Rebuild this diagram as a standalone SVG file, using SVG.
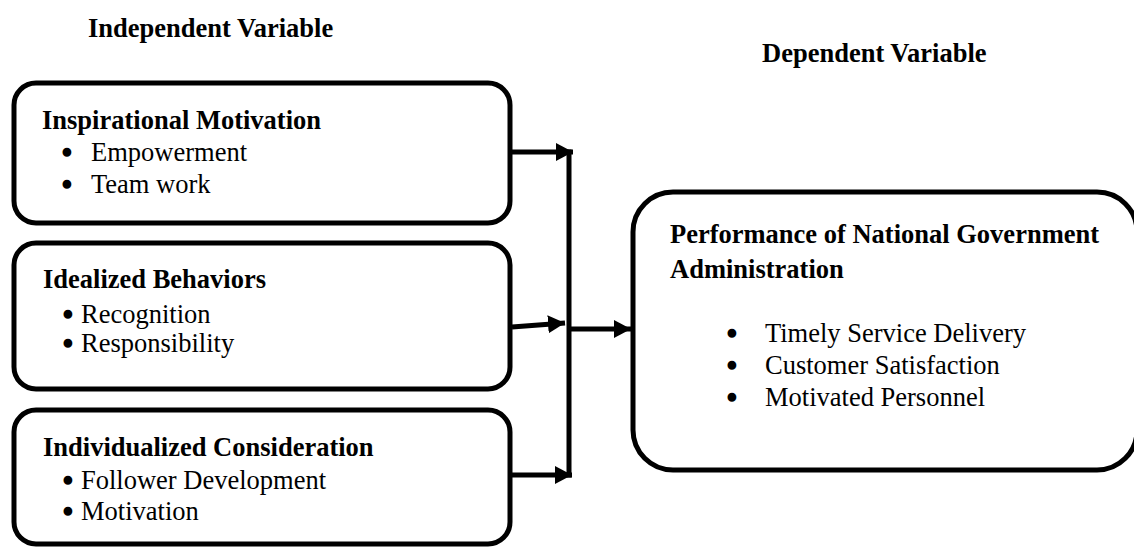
<svg xmlns="http://www.w3.org/2000/svg" width="1134" height="547" viewBox="0 0 1134 547">
  <style>
    .box { fill: #ffffff; stroke: #000000; stroke-width: 5; }
    .h { font-family: "Liberation Serif", "Times New Roman", serif; font-weight: bold; font-size: 26.5px; fill: #000; }
    .t { font-family: "Liberation Serif", "Times New Roman", serif; font-size: 26.5px; fill: #000; }
    .b { font-family: "Liberation Serif", "Times New Roman", serif; font-size: 26.5px; fill: #000; stroke: #000; stroke-width: 2.4; stroke-linejoin: round; text-anchor: middle; }
    .conn { stroke: #000; stroke-width: 5; fill: none; }
  </style>
  <defs>
    <marker id="ah" markerUnits="userSpaceOnUse" markerWidth="18" markerHeight="18" refX="17" refY="9" orient="auto">
      <path d="M0,0 L17,9 L0,18 Z" fill="#000"/>
    </marker>
  </defs>
  <rect width="1134" height="547" fill="#ffffff"/>

  <g id="titles">
    <text class="h" x="88" y="37">Independent Variable</text>
    <text class="h" x="762" y="62">Dependent Variable</text>
  </g>

  <g id="node-inspirational">
    <rect class="box" x="14" y="83" width="496" height="140" rx="22" ry="22"/>
    <text class="h" x="42" y="129">Inspirational Motivation</text>
    <text class="b" x="67" y="162">•</text>
    <text class="t" x="91" y="161">Empowerment</text>
    <text class="b" x="67" y="194">•</text>
    <text class="t" x="91" y="193">Team work</text>
  </g>

  <g id="node-idealized">
    <rect class="box" x="14" y="243" width="496" height="146" rx="22" ry="22"/>
    <text class="h" x="43" y="288">Idealized Behaviors</text>
    <text class="b" x="68" y="324">•</text>
    <text class="t" x="81" y="323">Recognition</text>
    <text class="b" x="68" y="353">•</text>
    <text class="t" x="81" y="352">Responsibility</text>
  </g>

  <g id="node-individualized">
    <rect class="box" x="14" y="410" width="496" height="134" rx="22" ry="22"/>
    <text class="h" x="43" y="456">Individualized Consideration</text>
    <text class="b" x="68" y="490">•</text>
    <text class="t" x="81" y="489">Follower Development</text>
    <text class="b" x="68" y="521">•</text>
    <text class="t" x="81" y="520">Motivation</text>
  </g>

  <g id="node-performance">
    <rect class="box" x="633" y="192" width="504" height="278" rx="40" ry="40"/>
    <text class="h" x="670" y="243">Performance of National Government</text>
    <text class="h" x="670" y="278">Administration</text>
    <text class="b" x="732" y="343">•</text>
    <text class="t" x="765" y="342">Timely Service Delivery</text>
    <text class="b" x="732" y="375">•</text>
    <text class="t" x="765" y="374">Customer Satisfaction</text>
    <text class="b" x="732" y="407">•</text>
    <text class="t" x="765" y="406">Motivated Personnel</text>
  </g>

  <g id="connectors">
    <line class="conn" x1="569" y1="149.5" x2="569" y2="477.5"/>
    <line class="conn" x1="512" y1="152" x2="573" y2="152" marker-end="url(#ah)"/>
    <line class="conn" x1="512" y1="327" x2="565" y2="323" marker-end="url(#ah)"/>
    <line class="conn" x1="512" y1="475" x2="572" y2="475" marker-end="url(#ah)"/>
    <line class="conn" x1="571" y1="329" x2="631" y2="329" marker-end="url(#ah)"/>
  </g>
</svg>
